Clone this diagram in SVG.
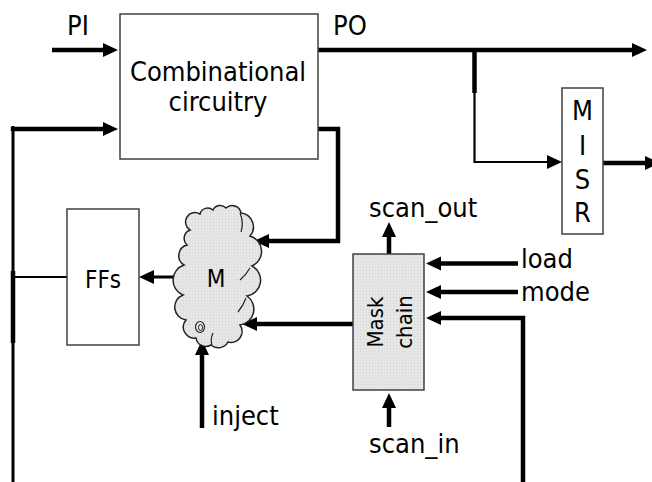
<svg xmlns="http://www.w3.org/2000/svg" width="652" height="482" viewBox="0 0 652 482">
<style>
  .box { fill: #ffffff; stroke: #404040; stroke-width: 1.5; }
  .gbox { fill: #e4e4e4; stroke: #404040; stroke-width: 1.5; }
  .t { font-family: "DejaVu Sans Condensed", "Liberation Sans", sans-serif; fill: #000; font-size: 27px; }
  .tc { text-anchor: middle; }
  .w { fill: none; stroke: #000; stroke-width: 4.5; }
  .wm { fill: none; stroke: #000; stroke-width: 3; }
  .wt { fill: none; stroke: #000; stroke-width: 2.2; }
</style>
<defs>
  <marker id="ah" markerUnits="userSpaceOnUse" markerWidth="15" markerHeight="14" refX="4" refY="7" orient="auto" overflow="visible">
    <path d="M0,0 L15,7 L0,14 z" fill="#000"/>
  </marker>
  <pattern id="dots" width="3" height="3" patternUnits="userSpaceOnUse">
    <rect width="3" height="3" fill="#e6e6e6"/>
    <rect width="1" height="1" fill="#d4d4d4"/>
  </pattern>
</defs>

<g id="connectors">
  <line class="w" x1="52" y1="50" x2="107" y2="50" marker-end="url(#ah)"/>
  <line class="wm" x1="13" y1="126" x2="13" y2="482"/>
  <line class="w" x1="13" y1="271" x2="13" y2="343"/>
  <path class="w" d="M10.8,129 H107" marker-end="url(#ah)"/>
  <path class="w" d="M318,129 H338 V241 H265" marker-end="url(#ah)"/>
  <line class="w" x1="318" y1="50" x2="636" y2="50" marker-end="url(#ah)"/>
  <line class="w" x1="474.5" y1="50" x2="474.5" y2="93"/>
  <path class="wt" d="M474.5,92 V162 H551" marker-end="url(#ah)"/>
  <line class="w" x1="603" y1="163" x2="649" y2="163" marker-end="url(#ah)"/>
  <line class="wt" x1="13" y1="277" x2="67" y2="277"/>
  <line class="wm" x1="183" y1="277" x2="150" y2="277" marker-end="url(#ah)"/>
  <line class="w" x1="353" y1="324" x2="253" y2="324" marker-end="url(#ah)"/>
  <line class="w" x1="202" y1="428" x2="202" y2="351" marker-end="url(#ah)"/>
  <line class="w" x1="389" y1="255" x2="389" y2="233" marker-end="url(#ah)"/>
  <line class="w" x1="389" y1="427" x2="389" y2="404" marker-end="url(#ah)"/>
  <line class="w" x1="518" y1="263.5" x2="437" y2="263.5" marker-end="url(#ah)"/>
  <line class="w" x1="518" y1="292" x2="437" y2="292" marker-end="url(#ah)"/>
  <path class="w" d="M523,482 V318 H437" marker-end="url(#ah)"/>
</g>

<g id="comb">
  <rect class="box" x="120" y="14" width="198" height="145"/>
  <text class="t tc" x="218" y="81">Combinational</text>
  <text class="t tc" x="218" y="111">circuitry</text>
</g>

<g id="misr">
  <rect class="box" x="562" y="88" width="41" height="146"/>
  <text class="t tc" x="582.5" y="120">M</text>
  <text class="t tc" x="582.5" y="155">I</text>
  <text class="t tc" x="582.5" y="189">S</text>
  <text class="t tc" x="582.5" y="222">R</text>
</g>

<g id="ffs">
  <rect class="box" x="67" y="209" width="72" height="136"/>
  <text class="t tc" x="103" y="288" style="font-size:24px">FFs</text>
</g>

<g id="m">
  <path fill="url(#dots)" stroke="#222" stroke-width="1.5" d="M190,230 A9,9 0 0 1 200,214 A8,8 0 0 1 213,210 A8,8 0 0 1 226,208 A9,9 0 0 1 241,213 A14,14 0 0 1 250,236 A16,16 0 0 1 252,266 A16,16 0 0 1 247,296 A16,16 0 0 1 240,325 A11,11 0 0 1 228,342 A11,11 0 0 1 211,345 A10,10 0 0 1 196,338 A11,11 0 0 1 186,320 A13,13 0 0 1 183,295 A16,16 0 0 1 184,265 A11,11 0 0 1 187,245 A9,9 0 0 1 190,230 z"/>
  <path fill="none" stroke="#222" stroke-width="1.2" d="M240,213 Q244,222 241,232 M250,268 Q246,275 240,280 M246,298 Q243,306 238,312 M212,345 Q210,339 213,333"/>
  <ellipse cx="200" cy="327" rx="4.5" ry="5.5" fill="#e6e6e6" stroke="#222" stroke-width="1.2"/>
  <ellipse cx="200.5" cy="327.5" rx="2" ry="3" fill="none" stroke="#222" stroke-width="1"/>
  <text class="t tc" x="216" y="287" style="font-size:24px">M</text>
</g>

<g id="mask">
  <rect class="gbox" x="353" y="254" width="71" height="136" fill="url(#dots)" style="fill:url(#dots)"/>
  <text class="t tc" transform="translate(383,322) rotate(-90)" style="font-size:22px">Mask</text>
  <text class="t tc" transform="translate(412,322) rotate(-90)" style="font-size:22px">chain</text>
</g>

<g id="labels">
  <text class="t" x="67" y="35">PI</text>
  <text class="t" x="333" y="35">PO</text>
  <text class="t" x="369" y="217">scan_out</text>
  <text class="t" x="521" y="268">load</text>
  <text class="t" x="521" y="301">mode</text>
  <text class="t" x="212" y="425">inject</text>
  <text class="t" x="369" y="453">scan_in</text>
</g>
</svg>
